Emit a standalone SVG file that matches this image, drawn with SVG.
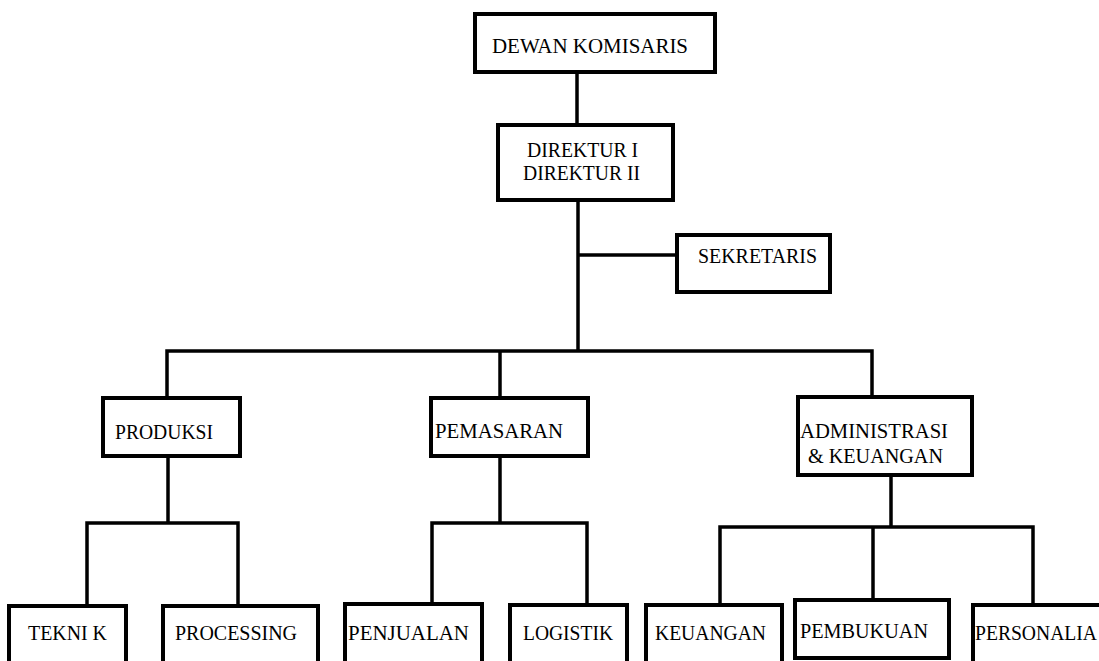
<svg xmlns="http://www.w3.org/2000/svg" width="1099" height="661" viewBox="0 0 1099 661">
<style>
.box{fill:#fff;stroke:#000;stroke-width:4}
.ln{fill:none;stroke:#000;stroke-width:3.5;stroke-linejoin:miter}
text{font-family:"Liberation Serif","Times New Roman",serif;font-size:20px;fill:#000}
</style>
<rect width="1099" height="661" fill="#fff"/>
<g id="connectors">
<path class="ln" d="M577 72V125"/>
<path class="ln" d="M578 200V351"/>
<path class="ln" d="M578 255H677"/>
<path class="ln" d="M167 398V351H872V397"/>
<path class="ln" d="M500 351V398"/>
<path class="ln" d="M168 456V523"/>
<path class="ln" d="M87 606V523H238V606"/>
<path class="ln" d="M500 456V523"/>
<path class="ln" d="M432 604V523H587V605"/>
<path class="ln" d="M891 475V527"/>
<path class="ln" d="M720 605V527H1033V605"/>
<path class="ln" d="M873 527V600"/>
</g>
<g id="dewan"><rect class="box" x="475" y="14" width="240" height="58"/><text x="492" y="53" textLength="196" lengthAdjust="spacingAndGlyphs">DEWAN KOMISARIS</text></g>
<g id="direktur"><rect class="box" x="498" y="125" width="175" height="75"/><text x="527" y="157" textLength="111" lengthAdjust="spacingAndGlyphs">DIREKTUR I</text><text x="523" y="180" textLength="117" lengthAdjust="spacingAndGlyphs">DIREKTUR II</text></g>
<g id="sekretaris"><rect class="box" x="677" y="235" width="153" height="57"/><text x="698" y="263" textLength="119" lengthAdjust="spacingAndGlyphs">SEKRETARIS</text></g>
<g id="produksi"><rect class="box" x="103" y="398" width="137" height="58"/><text x="115" y="439" textLength="98" lengthAdjust="spacingAndGlyphs">PRODUKSI</text></g>
<g id="pemasaran"><rect class="box" x="431" y="398" width="157" height="58"/><text x="435" y="438" textLength="128" lengthAdjust="spacingAndGlyphs">PEMASARAN</text></g>
<g id="administrasi"><rect class="box" x="798" y="397" width="174" height="78"/><text x="800" y="438" textLength="148" lengthAdjust="spacingAndGlyphs">ADMINISTRASI</text><text x="808" y="463" textLength="135" lengthAdjust="spacingAndGlyphs">&amp; KEUANGAN</text></g>
<g id="teknik"><rect class="box" x="9" y="606" width="117" height="60"/><text x="28" y="640" textLength="79" lengthAdjust="spacingAndGlyphs">TEKNI K</text></g>
<g id="processing"><rect class="box" x="163" y="606" width="155" height="60"/><text x="175" y="640" textLength="122" lengthAdjust="spacingAndGlyphs">PROCESSING</text></g>
<g id="penjualan"><rect class="box" x="345" y="604" width="137" height="62"/><text x="348" y="640" textLength="121" lengthAdjust="spacingAndGlyphs">PENJUALAN</text></g>
<g id="logistik"><rect class="box" x="510" y="605" width="117" height="61"/><text x="523" y="640" textLength="90" lengthAdjust="spacingAndGlyphs">LOGISTIK</text></g>
<g id="keuangan"><rect class="box" x="646" y="605" width="136" height="61"/><text x="655" y="640" textLength="111" lengthAdjust="spacingAndGlyphs">KEUANGAN</text></g>
<g id="pembukuan"><rect class="box" x="795" y="600" width="154" height="58"/><text x="800" y="638" textLength="128" lengthAdjust="spacingAndGlyphs">PEMBUKUAN</text></g>
<g id="personalia"><rect class="box" x="973" y="605" width="140" height="61"/><text x="975" y="640" textLength="122" lengthAdjust="spacingAndGlyphs">PERSONALIA</text></g>
</svg>
